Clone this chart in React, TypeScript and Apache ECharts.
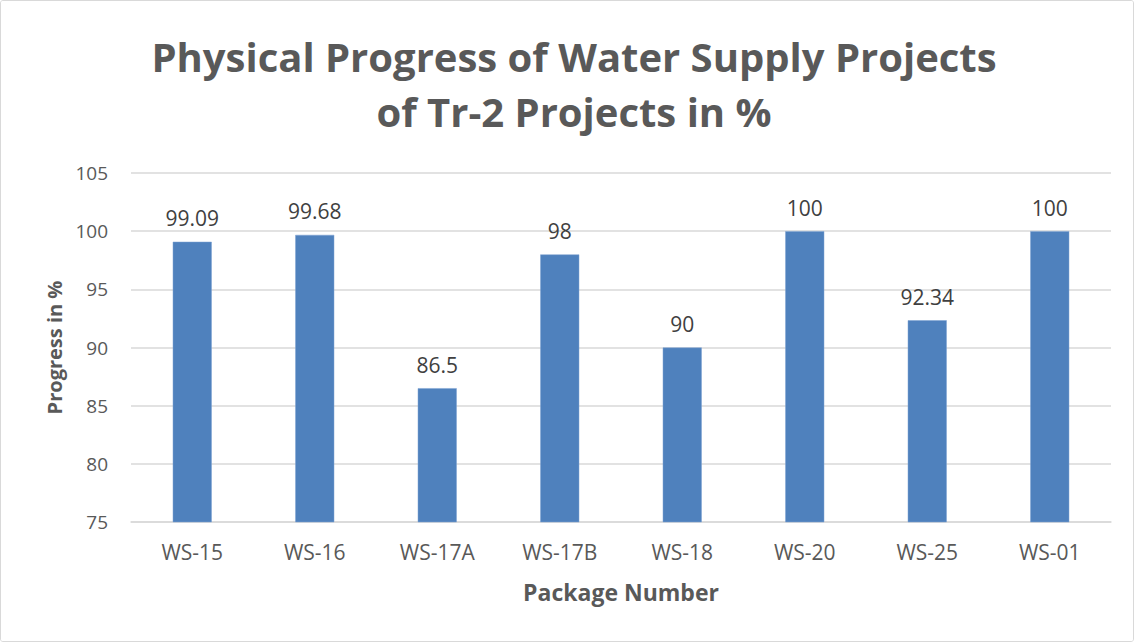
import React, { useEffect, useRef } from "react";
import * as echarts from "echarts";

const categories = ["WS-15", "WS-16", "WS-17A", "WS-17B", "WS-18", "WS-20", "WS-25", "WS-01"];
const progress = [99.09, 99.68, 86.5, 98, 90, 100, 92.34, 100];
const titleLines = ["Physical Progress of Water Supply Projects", "of Tr-2 Projects in %"];
const yTicks = { min: 75, max: 105, interval: 5 };

const FONT = "'Open Sans', sans-serif";
const GREY = "#595959";

export default function App() {
  const ref = useRef<HTMLDivElement>(null);
  useEffect(() => {
    document.body.style.margin = "0";
    const chart = echarts.init(ref.current!, undefined, { renderer: "svg" });
    chart.setOption({
      animation: false,
      backgroundColor: "#ffffff",
      title: {
        text: titleLines.join("\n"),
        left: 569,
        top: 24,
        textAlign: "center",
        textStyle: {
          fontFamily: FONT,
          fontSize: 40,
          fontWeight: "bold",
          color: GREY,
          lineHeight: 55,
        },
      },
      grid: { left: 131, right: 23, top: 173, bottom: 120, containLabel: false },
      xAxis: {
        type: "category",
        data: categories,
        name: "Package Number",
        nameLocation: "middle",
        nameGap: 58,
        nameTextStyle: { fontFamily: FONT, fontSize: 23, fontWeight: "bold", color: GREY },
        axisLine: { show: true, lineStyle: { color: "#d9d9d9", width: 1.5 } },
        axisTick: { show: false },
        axisLabel: { fontFamily: FONT, fontSize: 21, color: GREY, margin: 19 },
      },
      yAxis: {
        type: "value",
        min: yTicks.min,
        max: yTicks.max,
        interval: yTicks.interval,
        name: "Progress in %",
        nameLocation: "middle",
        nameGap: 66,
        nameTextStyle: { fontFamily: FONT, fontSize: 20, fontWeight: "bold", color: GREY },
        axisLine: { show: false },
        axisTick: { show: false },
        axisLabel: { fontFamily: FONT, fontSize: 19, color: GREY, margin: 23 },
        splitLine: { lineStyle: { color: "#d9d9d9", width: 1.5 } },
      },
      series: [
        {
          type: "bar",
          data: progress,
          barWidth: 39,
          itemStyle: { color: "#4F81BD", borderColor: "#7FA3D3", borderWidth: 0.5 },
          label: {
            show: true,
            position: "top",
            distance: 13,
            fontFamily: FONT,
            fontSize: 21,
            color: "#404040",
          },
        },
      ],
    });
    return () => chart.dispose();
  }, []);
  return (
    <div
      style={{
        width: 1134,
        height: 642,
        boxSizing: "border-box",
        border: "1px solid #d9d9d9",
        borderRadius: 3,
        position: "relative",
        overflow: "hidden",
      }}
    >
      <div ref={ref} style={{ position: "absolute", left: -1, top: -1, width: 1134, height: 642 }} />
    </div>
  );
}
